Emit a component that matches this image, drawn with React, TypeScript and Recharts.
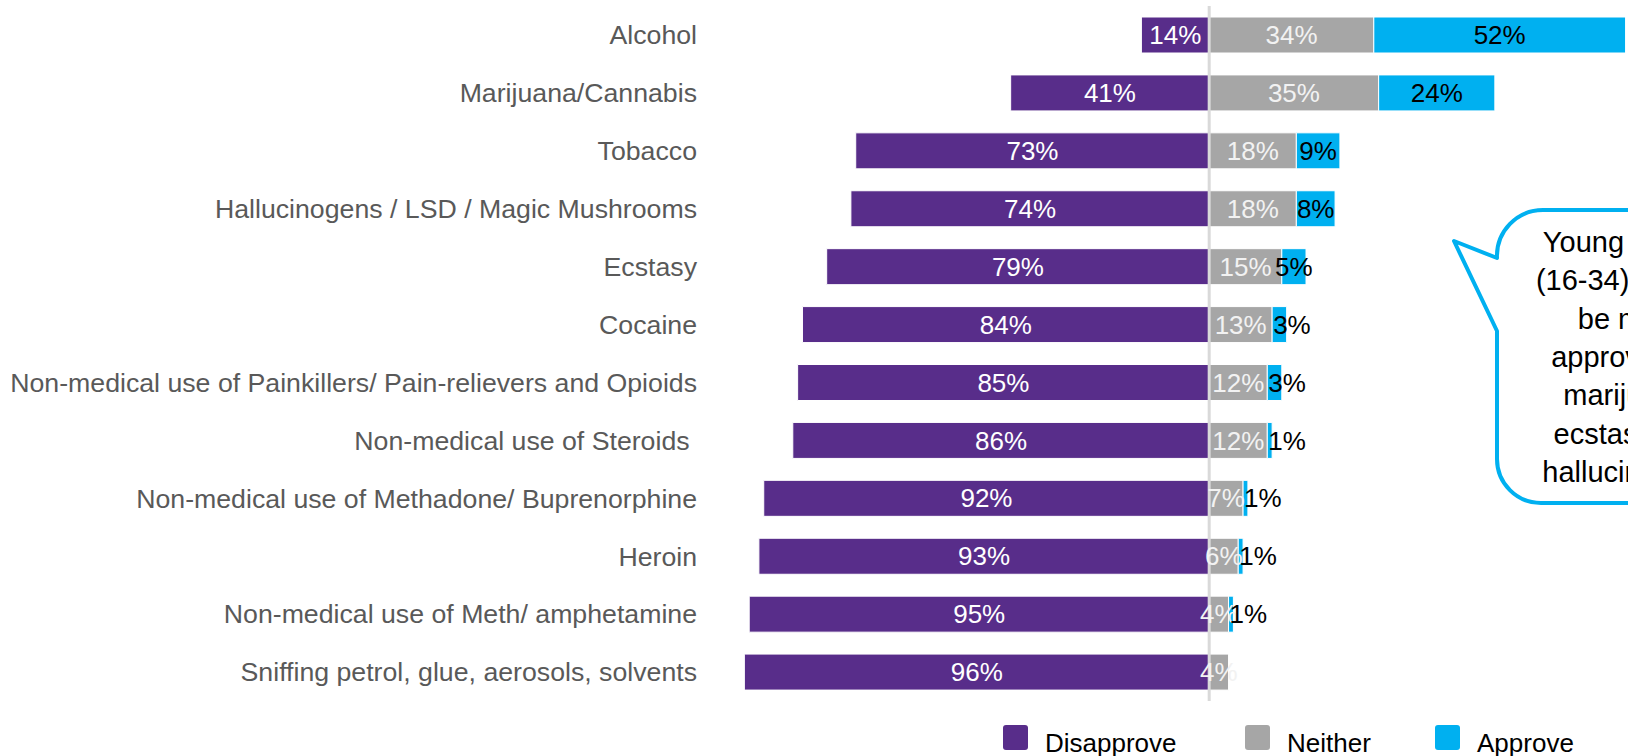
import React from "react";
import {
  BarChart,
  Bar,
  XAxis,
  YAxis,
  LabelList,
  ReferenceLine,
} from "recharts";

const categories = [
  "Alcohol",
  "Marijuana/Cannabis",
  "Tobacco",
  "Hallucinogens / LSD / Magic Mushrooms",
  "Ecstasy",
  "Cocaine",
  "Non-medical use of Painkillers/ Pain-relievers and Opioids",
  "Non-medical use of Steroids ",
  "Non-medical use of Methadone/ Buprenorphine",
  "Heroin",
  "Non-medical use of Meth/ amphetamine",
  "Sniffing petrol, glue, aerosols, solvents",
];

const disapprove = [14, 41, 73, 74, 79, 84, 85, 86, 92, 93, 95, 96];
const neither = [34, 35, 18, 18, 15, 13, 12, 12, 7, 6, 4, 4];
const approve = [52, 24, 9, 8, 5, 3, 3, 1, 1, 1, 1, 0];

const seriesNames = ["Disapprove", "Neither", "Approve"];
const seriesColors = ["#582d8a", "#a6a6a6", "#00b0f0"];

const calloutLines = [
  "Young people",
  "(16-34) tend to",
  "be more",
  "approving of",
  "marijuana,",
  "ecstasy and",
  "hallucinogens",
];

const FONT = "'Liberation Sans', Arial, sans-serif";

// disapprove is plotted to the left of zero
const rows = categories.map((name, i) => ({
  name,
  disapprove: -disapprove[i],
  neither: neither[i],
  approve: approve[i],
  disLabel: disapprove[i],
  neiLabel: neither[i],
  appLabel: approve[i],
}));

const makeLabel =
  (fill: string, source: number[], smallStart: boolean) => (props: any) => {
    const vb = props.viewBox ?? props;
    const { x, y, width, height } = vb;
    const v = typeof props.value === "number" ? props.value : source[props.index];
    if (!v) return null;
    const left = Math.min(x, x + width);
    const w = Math.abs(width);
    const cy = y + height / 2;
    const common = {
      y: cy,
      dy: "0.35em",
      fill,
      fontSize: 26,
      fontFamily: FONT,
    };
    if (smallStart && v <= 3) {
      return (
        <text x={left + 1} textAnchor="start" {...common}>
          {v}%
        </text>
      );
    }
    return (
      <text x={left + w / 2} textAnchor="middle" {...common}>
        {v}%
      </text>
    );
  };

const CategoryTick = ({ x, y, payload }: any) => (
  <text
    x={x}
    y={y}
    dy="0.35em"
    textAnchor="end"
    fill="#595959"
    fontSize={26.7}
    fontFamily={FONT}
    style={{ whiteSpace: "pre" }}
  >
    {payload.value}
  </text>
);

const legendX = [1003, 1245, 1435];

const Overlay = () => (
  <svg
    width={1628}
    height={756}
    style={{ position: "absolute", left: 0, top: 0, pointerEvents: "none" }}
  >
    <path
      d="M 1497 331 L 1454 241 L 1497 258 A 46 46 0 0 1 1543 210 L 1650 210 L 1650 503 L 1541 503 A 44 44 0 0 1 1497 459 Z"
      fill="#fff"
      stroke="#00b0f0"
      strokeWidth={4}
      strokeLinejoin="round"
    />
    {calloutLines.map((line, i) => (
      <text
        key={line}
        x={1631}
        y={252 + i * 38.3}
        textAnchor="middle"
        fontSize={29}
        fontFamily={FONT}
        fill="#000"
      >
        {line}
      </text>
    ))}
    {seriesNames.map((name, i) => (
      <g key={name}>
        <rect
          x={legendX[i]}
          y={725}
          width={25}
          height={25}
          rx={3}
          fill={seriesColors[i]}
        />
        <text
          x={legendX[i] + 42}
          y={752}
          fontSize={26}
          fontFamily={FONT}
          fill="#000"
        >
          {name}
        </text>
      </g>
    ))}
  </svg>
);

export default function App() {
  return (
    <div
      style={{
        position: "absolute",
        left: 0,
        top: 0,
        width: 1628,
        height: 756,
        overflow: "hidden",
        background: "#fff",
      }}
    >
      <BarChart
        layout="vertical"
        width={1628}
        height={756}
        data={rows}
        stackOffset="sign"
        barSize={36}
        margin={{ top: 6, right: 0, bottom: 55, left: 0 }}
      >
        <XAxis type="number" domain={[-100, 86.5]} allowDataOverflow hide />
        <YAxis
          type="category"
          dataKey="name"
          width={725}
          axisLine={false}
          tickLine={false}
          tickSize={0}
          tickMargin={28}
          interval={0}
          tick={<CategoryTick />}
        />
        <Bar
          dataKey="disapprove"
          stackId="a"
          fill={seriesColors[0]}
          stroke="#fff"
          strokeWidth={1}
          isAnimationActive={false}
        >
          <LabelList
            dataKey="disLabel"
            content={makeLabel("#ffffff", disapprove, false)}
          />
        </Bar>
        <Bar
          dataKey="neither"
          stackId="a"
          fill={seriesColors[1]}
          stroke="#fff"
          strokeWidth={1}
          isAnimationActive={false}
        >
          <LabelList
            dataKey="neiLabel"
            content={makeLabel("#f2f2f2", neither, false)}
          />
        </Bar>
        <Bar
          dataKey="approve"
          stackId="a"
          fill={seriesColors[2]}
          stroke="#fff"
          strokeWidth={1}
          isAnimationActive={false}
        >
          <LabelList
            dataKey="appLabel"
            content={makeLabel("#000000", approve, true)}
          />
        </Bar>
        <ReferenceLine x={0} stroke="#d9d9d9" strokeWidth={3} />
      </BarChart>
      <Overlay />
    </div>
  );
}
